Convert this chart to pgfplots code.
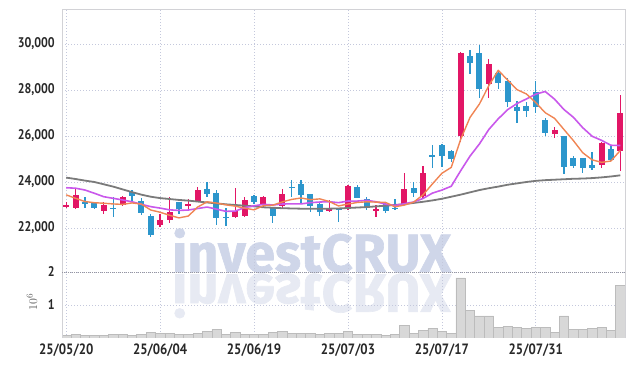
\documentclass[border=0pt]{standalone}
\usepackage{pgfplots}
\pgfplotsset{compat=1.18}
\usepackage{pgfplotstable}
\usepackage{fontspec}
\setmainfont{PT Sans}
\newfontfamily\tickfont{PT Sans}[FakeStretch=0.86]
\newfontfamily\wmfont{Fira Sans}[FakeBold=1.2]
\definecolor{upc}{RGB}{226,22,102}
\definecolor{dnc}{RGB}{44,150,204}
\definecolor{ma5c}{RGB}{240,133,84}
\definecolor{ma10c}{RGB}{201,88,235}
\definecolor{ma60c}{RGB}{122,122,122}
\definecolor{volfill}{RGB}{216,216,216}
\definecolor{voldraw}{RGB}{188,188,188}
\definecolor{gridc}{RGB}{196,200,220}
\definecolor{bordc}{RGB}{210,210,214}
\definecolor{topc}{RGB}{150,150,160}
\definecolor{tickc}{RGB}{40,40,40}
\definecolor{wmc}{RGB}{207,214,233}
\definecolor{wmrc}{RGB}{231,234,243}

\pgfplotstableread{
i o h l c
0 22900 23150 22870 22990
1 22880 23700 22830 23430
4 22750 23120 22600 23000
6 23000 23380 22950 23330
10 22130 22600 22060 22350
11 22350 23330 22200 22680
13 22960 23250 22770 23040
14 23150 23800 23130 23660
18 22490 23730 22420 22750
19 22520 23360 22480 23220
21 23000 23380 22860 23330
23 22970 23680 22880 23460
28 22750 23220 22680 22890
30 22830 23870 22800 23830
33 22750 23000 22470 22820
36 23030 24380 23000 23700
38 23390 24710 23320 24410
42 25980 29660 25750 29600
45 28260 29330 27640 29130
52 26070 26410 25900 26260
57 24740 25750 24590 25710
59 25330 27780 24490 26990
}\up

\pgfplotstableread{
i o h l c
2 23120 23360 22880 23080
3 23070 23150 22830 22880
5 22880 23350 22470 22840
7 23550 23640 23170 23400
8 23170 23290 22570 22640
9 22520 22600 21600 21700
12 23110 23130 22600 22830
15 23700 23980 23330 23480
16 23520 23650 22110 22420
17 22480 22860 22090 22440
20 23380 23420 23050 23120
22 22860 22900 22200 22540
24 23790 24090 23330 23760
25 23910 24090 23070 23430
26 23480 23500 22710 22970
27 23040 23100 22540 22710
29 22830 22850 22270 22800
31 23800 23850 23300 23320
32 23250 23360 22780 22860
34 23030 23100 22670 22750
35 22890 23250 22780 22850
37 23750 24010 23360 23510
39 25160 25610 24620 25130
40 25610 25650 24650 25140
41 25350 25380 24860 24990
43 29480 29740 28680 29190
44 29600 29960 27640 28040
46 28720 28870 28040 28320
47 28390 28510 27280 27490
48 27250 27530 26580 27100
49 27310 27490 26840 27100
50 27900 28410 26990 27240
51 26700 26770 26000 26140
53 26000 26020 24330 24670
54 25030 25130 24590 24700
55 25030 25050 24400 24590
56 24740 25320 24520 24600
58 25430 25610 24930 24960
}\down

\pgfplotstableread{
i ma5 ma10 ma60 vol
0 23440 23750 24190 0.09
1 23290 23730 24130 0.10
2 23150 23650 24060 0.07
3 23100 23510 24000 0.07
4 23076 23360 23900 0.07
5 23046 23290 23800 0.10
6 23026 23220 23680 0.10
7 23090 23140 23560 0.08
8 23042 23030 23450 0.11
9 22782 22929 23360 0.17
10 22684 22865 23300 0.14
11 22554 22790 23260 0.14
12 22440 22765 23220 0.11
13 22520 22781 23190 0.11
14 22912 22847 23150 0.15
15 23138 22911 23110 0.21
16 23086 22820 23070 0.26
17 23008 22724 23030 0.12
18 22950 22735 23000 0.17
19 22862 22887 22970 0.12
20 22790 22964 22940 0.12
21 22972 23029 22900 0.12
22 22992 23000 22880 0.16
23 23134 23042 22860 0.20
24 23242 23052 22850 0.15
25 23304 23047 22840 0.15
26 23232 23102 22840 0.13
27 23266 23129 22840 0.11
28 23152 23143 22840 0.13
29 22960 23101 22850 0.13
30 23040 23172 22870 0.20
31 23110 23171 22890 0.11
32 23140 23203 22910 0.11
33 23126 23139 22940 0.10
34 23116 23038 22970 0.09
35 22920 22980 23000 0.11
36 22996 23053 23040 0.38
37 23126 23133 23090 0.15
38 23444 23285 23140 0.23
39 23920 23518 23200 0.29
40 24378 23649 23270 0.21
41 24636 23816 23360 0.15
42 25854 24490 23450 1.82
43 26810 25127 23550 0.84
44 27392 25656 23650 0.67
45 28190 26284 23730 0.67
46 28856 26746 23800 0.32
47 28434 27144 23880 0.35
48 28016 27413 23940 0.32
49 27828 27610 24000 0.30
50 27450 27820 24050 0.32
51 27014 27935 24080 0.32
52 26768 27601 24100 0.18
53 26282 27149 24120 0.67
54 25802 26815 24140 0.27
55 25272 26361 24150 0.27
56 24964 25989 24170 0.30
57 24854 25811 24200 0.32
58 24912 25597 24240 0.24
59 25370 25586 24290 1.59
}\ma

\pgfplotsset{
  common/.style={
    scale only axis, width=563bp,
    xmin=-0.45, xmax=59.5,
    axis line style={draw=none},
    tick style={draw=none},
    scaled y ticks=false, scaled x ticks=false,
    xtick={0,10,20,30,40,50},
    xmajorgrids, ymajorgrids,
    major grid style={gridc, line width=0.7bp, dash pattern=on 1bp off 2bp},
    yticklabel style={font=\tickfont\bfseries\fontsize{14}{14}\selectfont, text=tickc, anchor=east, inner sep=0pt, xshift=-7bp},
  },
  candle/.style 2 args={draw=none, no markers, forget plot,
    error bars/.cd, y dir=both, y explicit, error mark=none,
    error bar style={draw=#1, line width=#2}},
}

\begin{document}
\begin{tikzpicture}
\useasboundingbox (0,0) rectangle (634bp,366bp);
% watermark
\node[anchor=base west, inner sep=0pt, text=wmc, font=\wmfont\bfseries\fontsize{54}{54}\selectfont] at (172bp,94bp) {investCRUX};
\node[anchor=base west, inner sep=0pt, yscale=-1, text=wmrc, font=\wmfont\bfseries\fontsize{54}{54}\selectfont] at (172bp,91.5bp) {investCRUX};

% price panel
\begin{axis}[common,
  at={(62bp,94bp)}, anchor=south west, height=263bp,
  ymin=20087, ymax=31522,
  ytick={22000,24000,26000,28000,30000},
  yticklabels={{22,000},{24,000},{26,000},{28,000},{30,000}},
  xticklabels={,,,,,},
  after end axis/.code={
    \draw[bordc, line width=0.8bp] (rel axis cs:0,0) -- (rel axis cs:0,1) -- (rel axis cs:1,1) -- (rel axis cs:1,0);
  },
]
% wicks
\addplot[candle={upc}{1.3bp}]
  table[x=i, y expr={(\thisrow{h}+\thisrow{l})/2}, y error expr={(\thisrow{h}-\thisrow{l})/2}]{\up};
\addplot[candle={dnc}{1.3bp}]
  table[x=i, y expr={(\thisrow{h}+\thisrow{l})/2}, y error expr={(\thisrow{h}-\thisrow{l})/2}]{\down};
% bodies
\addplot[candle={upc}{6bp}]
  table[x=i, y expr={(\thisrow{o}+\thisrow{c})/2}, y error expr={(\thisrow{c}-\thisrow{o})/2}]{\up};
\addplot[candle={dnc}{6bp}]
  table[x=i, y expr={(\thisrow{o}+\thisrow{c})/2}, y error expr={(\thisrow{o}-\thisrow{c})/2}]{\down};
% moving averages
\addplot[ma60c, line width=1.8bp, no markers, line join=round] table[x=i, y=ma60]{\ma};
\addplot[ma10c, line width=1.6bp, no markers, line join=round] table[x=i, y=ma10]{\ma};
\addplot[ma5c, line width=1.4bp, no markers, line join=round] table[x=i, y=ma5]{\ma};
\end{axis}

% volume panel
\begin{axis}[common,
  at={(62bp,28bp)}, anchor=south west, height=66bp,
  ymin=0, ymax=2,
  ytick={1,2}, yticklabels={1,2},
  xticklabels={25/05/20,25/06/04,25/06/19,25/07/03,25/07/17,25/07/31},
  xticklabel style={font=\tickfont\bfseries\fontsize{15}{15}\selectfont, text=tickc, anchor=north, inner sep=0pt, yshift=-6bp},
  after end axis/.code={
    \draw[bordc, line width=0.8bp] (rel axis cs:0,0) -- (rel axis cs:0,1);
    \draw[bordc, line width=0.8bp] (rel axis cs:1,0) -- (rel axis cs:1,1);
    \draw[topc, line width=0.7bp, dash pattern=on 1bp off 1bp] (rel axis cs:0,1) -- (rel axis cs:1,1);
  },
]
\addplot[ybar, bar width=1, fill=volfill, draw=voldraw, line width=0.5bp] table[x=i, y=vol]{\ma};
\end{axis}
\node[rotate=90, text=black!65, font=\fontsize{13}{13}\selectfont] at (32bp,64bp) {$10^6$};
\end{tikzpicture}
\end{document}
